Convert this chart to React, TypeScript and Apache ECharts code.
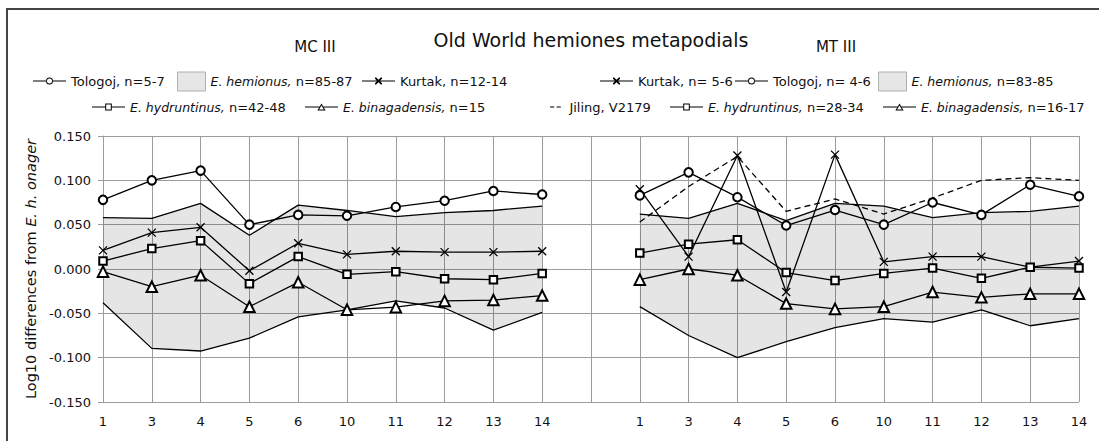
import React, { useEffect, useRef } from "react";
import * as echarts from "echarts";

// ---- data ----
const mcBones = ["1", "3", "4", "5", "6", "10", "11", "12", "13", "14"];
const mtBones = ["1", "3", "4", "5", "6", "10", "11", "12", "13", "14"];
const yTicks = { min: -0.15, max: 0.15, interval: 0.05 };

// MC III (left panel)
const tologojMC = [0.078, 0.1, 0.111, 0.05, 0.061, 0.06, 0.07, 0.077, 0.088, 0.084];
const hemionusUpperMC = [0.058, 0.057, 0.074, 0.038, 0.072, 0.066, 0.059, 0.0635, 0.066, 0.071];
const hemionusLowerMC = [-0.038, -0.0895, -0.0925, -0.078, -0.054, -0.046, -0.036, -0.044, -0.069, -0.049];
const kurtakMC = [0.021, 0.041, 0.047, -0.002, 0.029, 0.0165, 0.02, 0.019, 0.019, 0.02];
const hydruntinusMC = [0.009, 0.023, 0.032, -0.0165, 0.014, -0.006, -0.003, -0.011, -0.012, -0.005];
const binagadensisMC = [-0.003, -0.02, -0.007, -0.0425, -0.015, -0.046, -0.043, -0.036, -0.035, -0.03];

// MT III (right panel)
const kurtakMT = [0.09, 0.014, 0.128, -0.026, 0.129, 0.008, 0.014, 0.014, 0.002, 0.009];
const tologojMT = [0.083, 0.109, 0.081, 0.049, 0.0665, 0.05, 0.075, 0.061, 0.095, 0.082];
const hemionusUpperMT = [0.062, 0.057, 0.074, 0.0545, 0.074, 0.071, 0.058, 0.0635, 0.065, 0.071];
const hemionusLowerMT = [-0.0425, -0.075, -0.1, -0.082, -0.066, -0.056, -0.06, -0.046, -0.064, -0.056];
const jilingMT = [0.053, 0.093, 0.127, 0.065, 0.079, 0.062, 0.08, 0.1, 0.103, 0.1];
const hydruntinusMT = [0.018, 0.028, 0.033, -0.004, -0.013, -0.005, 0.001, -0.0105, 0.002, 0.001];
const binagadensisMT = [-0.012, 0.0, -0.007, -0.039, -0.045, -0.0425, -0.026, -0.032, -0.028, -0.028];

const FONT = "DejaVu Sans";
const INK = "#111";
const GRID = "#9c9c9c";

const categories = [
  ...mcBones.map((b) => "MC " + b),
  "gap",
  ...mtBones.map((b) => "MT " + b),
];

const padL = (a: number[]) => [...a, ...Array(11).fill(null)];
const padR = (a: number[]) => [...Array(11).fill(null), ...a];

const X_PATH = "path://M0,0L10,10M0,10L10,0";

// legend icons: line with hollow marker in the middle (33 x 7)
const ICON_CIRCLE =
  "path://M0,2.9h13.2v1.2h-13.2zM19.8,2.9h13.2v1.2h-13.2z" +
  "M20,3.5A3.5,3.5 0 1,0 13,3.5A3.5,3.5 0 1,0 20,3.5z" +
  "M19,3.5A2.5,2.5 0 1,1 14,3.5A2.5,2.5 0 1,1 19,3.5z";
const ICON_SQUARE =
  "path://M0,2.9h13.2v1.2h-13.2zM19.8,2.9h13.2v1.2h-13.2z" +
  "M13.2,0h6.6v7h-6.6zM14.2,1v5h4.6v-5z";
const ICON_TRIANGLE =
  "path://M0,2.9h14.5v1.2h-14.5zM18.5,2.9h14.5v1.2h-14.5z" +
  "M16.5,0L20.6,7L12.4,7zM16.5,2.1L14.1,6L18.9,6z";
const ICON_X =
  "path://M0,2.9h33v1.2h-33z" +
  "M13,0L14.2,0L20,5.8L20,7L18.8,7L13,1.2z" +
  "M20,0L20,1.2L14.2,7L13,7L13,5.8L18.8,0z";
const ICON_DASH = "path://M0,0h7v2h-7zM11,0h7v2h-7z";

function lineSeries(name: string, data: (number | null)[], symbol: string, size: number, extra: any = {}) {
  return {
    name,
    type: "line",
    data,
    symbol,
    symbolSize: size,
    showSymbol: true,
    connectNulls: false,
    color: "#000",
    lineStyle: { color: "#000", width: 1.3 },
    itemStyle: { color: "#000", borderColor: "#000", borderWidth: 1 },
    emphasis: { disabled: true },
    z: 5,
    ...extra,
  };
}

function bandSeries(nameLower: string, nameBand: string, lower: number[], upper: number[], pad: (a: number[]) => any[], stack: string) {
  return [
    {
      name: nameLower,
      type: "line",
      data: pad(lower),
      stack,
      stackStrategy: "all",
      symbol: "none",
      color: "#000",
      lineStyle: { color: "#000", width: 1.3 },
      emphasis: { disabled: true },
      z: 3,
    },
    {
      name: nameBand,
      type: "line",
      data: pad(upper.map((u, i) => u - lower[i])),
      stack,
      stackStrategy: "all",
      symbol: "none",
      color: "#000",
      lineStyle: { color: "#000", width: 1.3 },
      areaStyle: { color: "rgba(0,0,0,0.1)", opacity: 1 },
      emphasis: { disabled: true },
      z: 3,
    },
  ];
}

const richFmt = (name: string) => {
  const m = name.match(/^(E\. [a-z]+,)(.*)$/);
  return m ? `{i|${m[1]}}{n|${m[2]}}` : `{n|${name}}`;
};

const legendText = {
  fontFamily: FONT,
  fontSize: 13,
  color: INK,
  rich: {
    i: { fontFamily: FONT, fontSize: 12.5, color: INK, fontStyle: "italic" },
    n: { fontFamily: FONT, fontSize: 13, color: INK },
  },
};

const iconStyle = { color: "#000", borderWidth: 0 };

function leg(name: string, icon: string, left: number, center: number, opts: any = {}) {
  const itemHeight = opts.itemHeight ?? 7;
  const h = Math.max(itemHeight, 13);
  return {
    data: [{ name, icon, itemStyle: opts.itemStyle ?? iconStyle }],
    left,
    top: center - h / 2,
    padding: 0,
    itemGap: 0,
    itemWidth: opts.itemWidth ?? 33,
    itemHeight,
    selectedMode: false,
    formatter: richFmt,
    textStyle: legendText,
  };
}

export default function App() {
  const ref = useRef<HTMLDivElement>(null);
  useEffect(() => {
    if (!ref.current) return;
    const chart = echarts.init(ref.current, null, { renderer: "svg" });

    const boxStyle = { color: "#e6e6e6", borderColor: "#b0b0b0", borderWidth: 1 };
    const boxOpts = { itemStyle: boxStyle, itemWidth: 28, itemHeight: 19 };

    const option: any = {
      animation: false,
      backgroundColor: "#fff",
      textStyle: { fontFamily: FONT },
      graphic: [
        {
          type: "rect",
          shape: { x: 7, y: 9, width: 1100, height: 440 },
          style: { fill: "none", stroke: "#444", lineWidth: 2 },
          silent: true,
        },
        {
          type: "text",
          x: 591,
          y: 40,
          style: { text: "Old World hemiones metapodials", font: `19px '${FONT}'`, fill: INK, textAlign: "center", textVerticalAlign: "middle" },
        },
        {
          type: "text",
          x: 315,
          y: 47,
          style: { text: "MC III", font: `15px '${FONT}'`, fill: INK, textAlign: "center", textVerticalAlign: "middle" },
        },
        {
          type: "text",
          x: 836,
          y: 47,
          style: { text: "MT III", font: `15px '${FONT}'`, fill: INK, textAlign: "center", textVerticalAlign: "middle" },
        },
      ],
      legend: [
        leg("Tologoj, n=5-7", ICON_CIRCLE, 33, 81),
        leg("E. hemionus, n=85-87", "rect", 177, 81, boxOpts),
        leg("Kurtak, n=12-14", ICON_X, 362, 81),
        leg("E. hydruntinus, n=42-48", ICON_SQUARE, 92, 107),
        leg("E. binagadensis, n=15", ICON_TRIANGLE, 305, 107),
        leg("Kurtak, n= 5-6", ICON_X, 600, 81),
        leg("Tologoj, n= 4-6", ICON_CIRCLE, 735, 81),
        leg("E. hemionus, n=83-85", "rect", 878, 81, boxOpts),
        leg("Jiling, V2179", ICON_DASH, 550, 107, { itemWidth: 18, itemHeight: 1.2 }),
        leg("E. hydruntinus, n=28-34", ICON_SQUARE, 670, 107),
        leg("E. binagadensis, n=16-17", ICON_TRIANGLE, 883, 107),
      ],
      grid: { left: 103, right: 20, top: 136, bottom: 39, containLabel: false },
      xAxis: {
        type: "category",
        data: categories,
        boundaryGap: false,
        axisLine: { show: true, lineStyle: { color: GRID, width: 1 } },
        axisTick: { show: false },
        splitLine: { show: true, lineStyle: { color: GRID, width: 1 } },
        axisLabel: {
          interval: 0,
          margin: 13,
          fontFamily: FONT,
          fontSize: 13,
          color: INK,
          formatter: (v: string) => (v === "gap" ? "" : v.split(" ")[1]),
        },
      },
      yAxis: {
        type: "value",
        min: yTicks.min,
        max: yTicks.max,
        interval: yTicks.interval,
        name: "{n|Log10 differences from }{i|E. h. onager}",
        nameLocation: "middle",
        nameRotate: 90,
        nameGap: 63,
        nameTextStyle: {
          rich: {
            n: { fontFamily: FONT, fontSize: 14.5, color: INK },
            i: { fontFamily: FONT, fontSize: 14.5, color: INK, fontStyle: "italic" },
          },
        },
        axisLine: { show: true, lineStyle: { color: GRID, width: 1 } },
        axisTick: { show: true, length: 5, lineStyle: { color: GRID } },
        splitLine: { show: true, lineStyle: { color: GRID, width: 1 } },
        axisLabel: {
          margin: 12,
          fontFamily: FONT,
          fontSize: 13,
          color: INK,
          formatter: (v: number) => v.toFixed(3),
        },
      },
      series: [
        ...bandSeries("hemLowerMC", "E. hemionus, n=85-87", hemionusLowerMC, hemionusUpperMC, padL, "bandMC"),
        ...bandSeries("hemLowerMT", "E. hemionus, n=83-85", hemionusLowerMT, hemionusUpperMT, padR, "bandMT"),
        lineSeries("Tologoj, n=5-7", padL(tologojMC), "emptyCircle", 8.5),
        lineSeries("Kurtak, n=12-14", padL(kurtakMC), X_PATH, 8, { itemStyle: { color: "#000", borderColor: "#000", borderWidth: 1.3 } }),
        lineSeries("E. hydruntinus, n=42-48", padL(hydruntinusMC), "emptyRect", 7.5),
        lineSeries("E. binagadensis, n=15", padL(binagadensisMC), "emptyTriangle", 10.5),
        lineSeries("Jiling, V2179", padR(jilingMT), "none", 0, { lineStyle: { color: "#000", width: 1.3, type: [6, 4] }, z: 4 }),
        lineSeries("Kurtak, n= 5-6", padR(kurtakMT), X_PATH, 8, { itemStyle: { color: "#000", borderColor: "#000", borderWidth: 1.3 } }),
        lineSeries("Tologoj, n= 4-6", padR(tologojMT), "emptyCircle", 8.5),
        lineSeries("E. hydruntinus, n=28-34", padR(hydruntinusMT), "emptyRect", 7.5),
        lineSeries("E. binagadensis, n=16-17", padR(binagadensisMT), "emptyTriangle", 10.5),
      ],
    };
    chart.setOption(option);
    return () => chart.dispose();
  }, []);
  return <div ref={ref} style={{ position: "absolute", left: 0, top: 0, width: 1099, height: 441 }} />;
}
